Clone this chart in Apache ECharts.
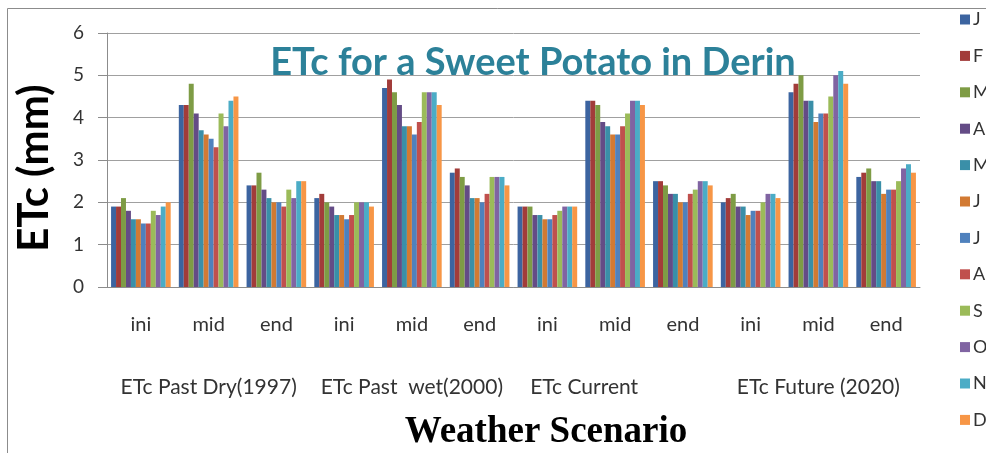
<!DOCTYPE html>
<html><head><meta charset="utf-8">
<script src="https://cdn.jsdelivr.net/npm/echarts@6/dist/echarts.min.js"></script>
<style>html,body{margin:0;padding:0;background:#fff}#c{width:986px;height:453px}</style>
</head><body><div id="c"></div>
<script>
const stages = ['ini','mid','end','ini','mid','end','ini','mid','end','ini','mid','end'];
const scenarios = ['ETc Past Dry(1997)','ETc Past  wet(2000)','ETc Current','ETc Future (2020)'];
const months = ['Jan','Feb','Mar','Apr','May','Jun','Jul','Aug','Sep','Oct','Nov','Dec'];
const jan = [1.9,4.3,2.4,2.1,4.7,2.7,1.9,4.4,2.5,2.0,4.6,2.6];
const feb = [1.9,4.3,2.4,2.2,4.9,2.8,1.9,4.4,2.5,2.1,4.8,2.7];
const mar = [2.1,4.8,2.7,2.0,4.6,2.6,1.9,4.3,2.4,2.2,5.0,2.8];
const apr = [1.8,4.1,2.3,1.9,4.3,2.4,1.7,3.9,2.2,1.9,4.4,2.5];
const may = [1.6,3.7,2.1,1.7,3.8,2.1,1.7,3.8,2.2,1.9,4.4,2.5];
const jun = [1.6,3.6,2.0,1.7,3.8,2.1,1.6,3.6,2.0,1.7,3.9,2.2];
const jul = [1.5,3.5,2.0,1.6,3.6,2.0,1.6,3.6,2.0,1.8,4.1,2.3];
const aug = [1.5,3.3,1.9,1.7,3.9,2.2,1.7,3.8,2.2,1.8,4.1,2.3];
const sep = [1.8,4.1,2.3,2.0,4.6,2.6,1.8,4.1,2.3,2.0,4.5,2.5];
const oct = [1.7,3.8,2.1,2.0,4.6,2.6,1.9,4.4,2.5,2.2,5.0,2.8];
const nov = [1.9,4.4,2.5,2.0,4.6,2.6,1.9,4.4,2.5,2.2,5.1,2.9];
const dec = [2.0,4.5,2.5,1.9,4.3,2.4,1.9,4.3,2.4,2.1,4.8,2.7];
const values = [jan,feb,mar,apr,may,jun,jul,aug,sep,oct,nov,dec];
const colors = ['#3C64A0','#A23C3A','#7E9C45','#644C86','#3A8FA8','#D27A33',
                '#4F81BD','#C0504D','#9BBB59','#8064A2','#4BACC6','#F79646'];
const yTicks = [0,1,2,3,4,5,6];

const chart = echarts.init(document.getElementById('c'));
const lab = 'Lato, "Open Sans", sans-serif';
chart.setOption({
  animation: false,
  color: colors,
  title: {
    text: 'ETc for a Sweet Potato in Derin',
    left: 528, top: 39, textAlign: 'center',
    textStyle: {color: '#2C8199', fontSize: 38, fontWeight: 'bold', fontFamily: lab}
  },
  legend: {
    orient: 'vertical', left: 955, top: 4,
    icon: 'rect', itemWidth: 10, itemHeight: 10, itemGap: 15.4,
    data: months,
    formatter: n => n.charAt(0),
    textStyle: {fontSize: 18, lineHeight: 21, color: '#333', fontFamily: lab, padding: [0,0,0,-2]}
  },
  grid: {left: 107, right: 66, top: 33, bottom: 166, containLabel: false},
  xAxis: [{
    type: 'category', data: stages,
    axisLine: {lineStyle: {color: '#8c8c8c'}},
    axisTick: {show: false},
    axisLabel: {interval: 0, margin: 28, fontSize: 20, color: '#333', fontFamily: lab}
  },{
    type: 'category', data: scenarios, position: 'bottom',
    axisLine: {show: false}, axisTick: {show: false}, splitLine: {show: false},
    axisLabel: {interval: 0, hideOverlap: false, margin: 90, fontSize: 21, color: '#333', fontFamily: lab,
      formatter: v => v === 'ETc Current' ? '{c|' + v + '}' : v,
      rich: {c: {fontSize: 21, color: '#333', fontFamily: lab, padding: [0,62,0,0]}}}
  }],
  yAxis: {
    type: 'value', min: 0, max: 6, interval: 1,
    axisLine: {show: true, lineStyle: {color: '#8c8c8c'}},
    axisTick: {show: true, length: 9, lineStyle: {color: '#8c8c8c'}},
    splitLine: {lineStyle: {color: '#a0a0a0', width: 1}},
    axisLabel: {margin: 23, fontSize: 19, color: '#333', fontFamily: lab,
      formatter: v => yTicks.includes(v) ? String(v) : ''}
  },
  graphic: [
    {type: 'rect', shape: {x: 7.5, y: 8.5, width: 1100, height: 600}, silent: true,
     style: {fill: 'none', stroke: '#8c8c8c', lineWidth: 1}, z: -1},
    {type: 'text', x: 34, y: 168, rotation: Math.PI / 2,
     style: {text: 'ETc (mm)', fill: '#000', font: 'bold 42px ' + lab, align: 'center', verticalAlign: 'middle'}},
    {type: 'text', x: 546, y: 432,
     style: {text: 'Weather Scenario', fill: '#000', font: 'bold 37px "Liberation Serif", "DejaVu Serif", serif', align: 'center', verticalAlign: 'middle'}}
  ],
  series: months.map((m, i) => ({
    name: m, type: 'bar', data: values[i], xAxisIndex: 0,
    barGap: '0%', barCategoryGap: '12%'
  }))
});
</script></body></html>
